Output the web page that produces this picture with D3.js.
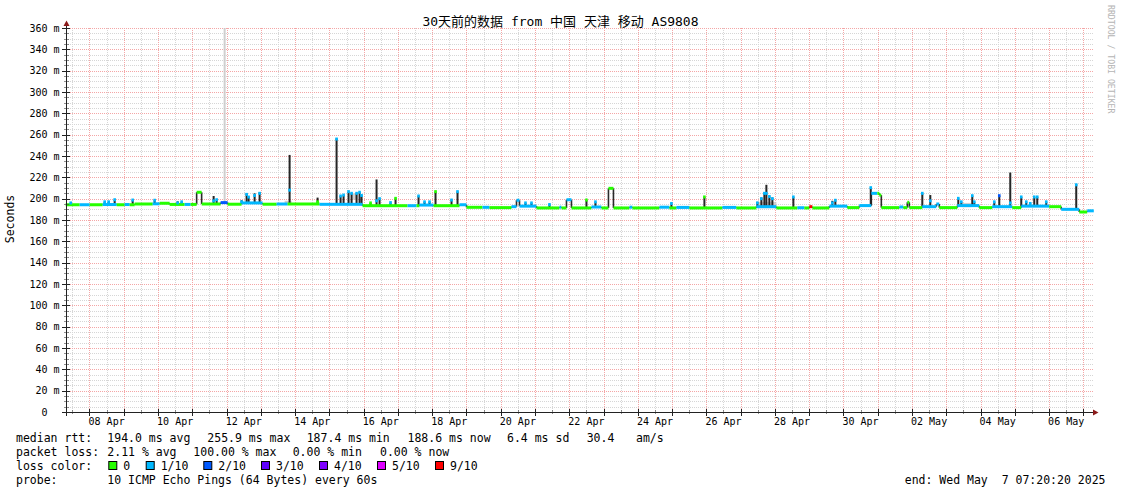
<!DOCTYPE html>
<html><head><meta charset="utf-8">
<script src="https://cdn.jsdelivr.net/npm/d3@7"></script>
<style>
body{margin:0;background:#fff}
svg text{font-family:"DejaVu Sans Mono","Noto Sans CJK SC",monospace;white-space:pre;fill:#000}
</style>
</head><body>
<svg id="c" width="1121" height="494"></svg>
<script>
// ---------- DATA ----------
const startTime = new Date(2025, 3, 7, 7, 20, 20);
const endTime   = new Date(2025, 4, 7, 7, 20, 20);
const titleText = "30天前的数据 from 中国 天津 移动 AS9808";
const yTicks = [0,20,40,60,80,100,120,140,160,180,200,220,240,260,280,300,320,340,360];
const xLabelDates = ["2025-04-08","2025-04-10","2025-04-12","2025-04-14","2025-04-16","2025-04-18","2025-04-20",
  "2025-04-22","2025-04-24","2025-04-26","2025-04-28","2025-04-30","2025-05-02","2025-05-04","2025-05-06"];

// loss colour classes
const lossLevels = [0, 1, 2, 3, 4, 5, 9];
const lossLabels = ["0", "1/10", "2/10", "3/10", "4/10", "5/10", "9/10"];
const lossColors = ["#26ff00", "#00b8ff", "#0059ff", "#5e00ff", "#7e00ff", "#dd00ff", "#ff0000"];

// median rtt step series (hours after start, ms, loss level)
const baseHours = [0,9.8,16.8,25.9,35.7,41.3,44.8,48.3,60.9,65.8,72.8,83.3,87.5,91.7,95.2,108.5,113.4,123.2,137.9,147.7,155.4,
  177.8,207.9,239.4,245.7,247.8,257.6,275.8,280.7,291.9,296.8,312.2,315.7,317.8,329.7,345.8,347.2,350.7,354.2,368.2,375.2,
  380.1,383.6,394.8,396.9,415.8,422.8,427.7,436.8,459.9,469.7,483.7,497.7,512.4,517.3,520.8,522.9,534.8,547.4,555.8,564.2,
  568.4,569.8,571.2,583.8,586.6,589.4,590.8,599.9,609.7,611.8,624.4,639.8,648.9,662.9,669.2,688.8,697.2,709.8,715.4];
const baseRtt = [194.3,194.3,194.3,194.5,194.3,194.5,194.3,195,195.2,195.7,194.6,194.6,194.6,206,195,196.3,194.8,196,194.8,195,195,
  194.7,193.4,193.4,193.4,194,193.4,194.3,191.9,191.9,191.6,192.5,198.5,193,191.3,192,191.3,199,191.3,192.2,191.3,
  209.7,191.3,192,191.3,192,191.3,191.8,191.3,191.8,191.3,192.5,191.3,191.5,191.3,192.5,191.3,193,191.6,193.5,205,
  205,203.3,191.6,192.2,191.6,196.6,191.6,192.5,195,191.6,193.5,191.6,192.5,191.6,193,192.5,190,187.5,188.6];
const baseLoss = [0,1,0,1,0,1,0,0,1,0,0,1,0,0,0,2,0,1,0,1,0,
  1,0,1,0,1,0,1,0,1,0,1,1,1,0,1,0,1,0,1,0,
  0,0,1,0,1,0,1,0,1,0,1,0,1,0,9,0,1,0,1,1,
  0,0,0,1,0,0,0,1,1,0,1,0,1,0,1,0,1,0,1];

// short spikes: hour, median at spike, max ping (top of smoke), loss level
const spikeHours = [3.5,27.3,30.1,34.3,46.9,62.3,78.4,81.2,103.6,105.7,123.2,126.7,128.1,132.3,135.8,156.8,176.4,189.7,192.5,
  194.6,198.1,200.2,203.7,205.8,207.2,213.5,217.7,219.8,227.5,231,247.1,251.3,254.8,259,270.2,274.4,322,326.2,338.8,364.7,
  371,424.2,447.3,484.4,487.2,489.3,490.7,492.8,494.9,509.6,536.9,539,563.8,599.9,605.5,625.1,627.2,634.9,636.3,650.3,
  653.8,661.5,669.2,672.7,675.5,678.3,680.4,686.7,707.7];
const spikeRtt = [196,197,197,199,198.7,198.5,196,197,198,199,197,204,201.5,203,205,208,197,255.9,202.5,
  203.4,206.6,205,205,206,203,196,198,200,196.3,200.3,202.5,197,197,206.6,198.7,206.6,196,196,194.5,198.7,
  197,195.5,201.6,196,200,205,205,202,200,201.6,196,198.5,210.3,205,198,200.3,197,202.8,197,197,
  202.8,196,201.6,197,195.5,201.6,201.6,197,213];
const spikeMax = [196,197,197,199,198.7,198.5,197.5,197,202.5,199,198.5,205,201.5,205,206,241,201,256.5,202.5,
  203.4,206.6,205,205,206,203,196,218,200,196.3,200.3,202.5,197,197,206.6,198.7,206.6,196,196,194.5,198.7,
  197,195.5,201.6,197,201,205,213,202,201,201.6,198,198.5,210.3,205,203.4,200.3,197,202.8,197,197,
  202.8,224.5,201.6,197,195.5,201.6,201.6,197,213.7];
const spikeLoss = [1,1,1,1,1,1,1,1,1,1,1,1,1,1,1,1,0,1,1,
  1,1,1,1,1,1,0,1,1,1,0,1,1,1,0,1,1,1,1,1,0,
  1,1,0,1,1,1,1,1,1,1,1,1,1,1,1,1,1,1,1,1,
  2,1,1,1,1,1,1,1,1];

// light grey smoke areas: start hour, end hour, low, high
const smokeStart = [110.6, 153.3, 200.9, 484.4, 627.9];
const smokeEnd   = [112.0, 158.2, 204.4, 497.7, 634.2];
const smokeLo    = [196, 194, 199, 191, 192];
const smokeHi    = [360, 198, 205, 197, 196];

// legend texts
const rttLegend  = ["194.0 ms avg", "255.9 ms max", "187.4 ms min", "188.6 ms now", "6.4 ms sd", "30.4", "am/s"];
const rttLegendX = [107.3, 207.3, 306.7, 407.5, 507, 586.7, 636];
const lossLegend  = ["2.11 % avg", "100.00 % max", "0.00 % min", "0.00 % now"];
const lossLegendX = [107.3, 193.3, 292.7, 380];
const lossBoxX = [108.3, 145.7, 203.3, 261, 319, 377, 435];
const probeText = "10 ICMP Echo Pings (64 Bytes) every 60s";
const endText = "end: Wed May  7 07:20:20 2025";

// ---------- DRAW ----------
const svg = d3.select("#c");
const W = 1121, H = 494;
svg.append("rect").attr("width", W).attr("height", H).attr("fill", "#fff");

const x = d3.scaleTime().domain([startTime, endTime]).range([65.7, 1093.8]);
const y = d3.scaleLinear().domain([0, 360]).range([412, 28]);
const hx = h => x(new Date(startTime.getTime() + h * 3600e3));
const colorOf = l => lossColors[lossLevels.indexOf(l)];

const plotL = 66, plotR = 1093, plotT = 28, plotB = 412;
const gGrid = svg.append("g").attr("class", "grid");
const gData = svg.append("g").attr("class", "data");

// minor horizontal grid (every 5)
const minorY = d3.range(0, 361, 5).filter(v => v % 20 !== 0);
gGrid.selectAll("line.hmin").data(minorY).join("line").attr("class", "hmin")
  .attr("x1", plotL).attr("x2", plotR)
  .attr("y1", d => Math.round(y(d)) + 0.5).attr("y2", d => Math.round(y(d)) + 0.5)
  .attr("stroke", "#d6d6d6").attr("stroke-dasharray", "1,1");
// minor vertical grid (noons)
const noons = d3.timeDay.range(d3.timeDay.floor(startTime), endTime).map(d => d3.timeHour.offset(d, 12))
  .filter(d => d > startTime && d < endTime);
gGrid.selectAll("line.vmin").data(noons).join("line").attr("class", "vmin")
  .attr("y1", plotT).attr("y2", plotB)
  .attr("x1", d => Math.round(x(d)) + 0.5).attr("x2", d => Math.round(x(d)) + 0.5)
  .attr("stroke", "#d6d6d6").attr("stroke-dasharray", "1,1");
// major vertical grid (midnights)
const mids = d3.timeDay.range(d3.timeDay.ceil(startTime), endTime);
gGrid.selectAll("line.vmaj").data(mids).join("line").attr("class", "vmaj")
  .attr("y1", plotT).attr("y2", plotB)
  .attr("x1", d => Math.round(x(d)) + 0.5).attr("x2", d => Math.round(x(d)) + 0.5)
  .attr("stroke", "#f4a6a6").attr("stroke-dasharray", "1,1");
// major horizontal grid
gGrid.selectAll("line.hmaj").data(yTicks.filter(v => v > 0)).join("line").attr("class", "hmaj")
  .attr("x1", plotL).attr("x2", plotR)
  .attr("y1", d => Math.round(y(d)) + 0.5).attr("y2", d => Math.round(y(d)) + 0.5)
  .attr("stroke", "#f4a6a6").attr("stroke-dasharray", "1,1");

// smoke
gData.selectAll("rect.smoke").data(d3.range(smokeStart.length)).join("rect").attr("class", "smoke")
  .attr("x", i => hx(smokeStart[i])).attr("width", i => Math.max(1.5, hx(smokeEnd[i]) - hx(smokeStart[i])))
  .attr("y", i => y(smokeHi[i])).attr("height", i => y(smokeLo[i]) - y(smokeHi[i]))
  .attr("fill", "#c8c8c8").attr("opacity", 0.85);

// base median: dark vertical connectors
const n = baseHours.length;
const segEnd = i => (i < n - 1 ? baseHours[i + 1] : 720);
const baseAt = h => { let k = 0; for (let i = 0; i < n; i++) if (baseHours[i] <= h) k = i; return baseRtt[k]; };
gData.selectAll("line.conn").data(d3.range(n - 1)).join("line").attr("class", "conn")
  .attr("x1", i => hx(baseHours[i + 1])).attr("x2", i => hx(baseHours[i + 1]))
  .attr("y1", i => y(baseRtt[i])).attr("y2", i => y(baseRtt[i + 1]))
  .attr("stroke", "#2a2a2a").attr("stroke-width", 1.6);

// dark spikes
const sp = d3.range(spikeHours.length);
gData.selectAll("rect.spike").data(sp).join("rect").attr("class", "spike")
  .attr("x", i => hx(spikeHours[i]) - 1).attr("width", 2)
  .attr("y", i => Math.max(plotT, y(spikeMax[i])))
  .attr("height", i => y(baseAt(spikeHours[i])) - Math.max(plotT, y(spikeMax[i])))
  .attr("fill", "#262626");

// coloured median segments
gData.selectAll("rect.seg").data(d3.range(n)).join("rect").attr("class", "seg")
  .attr("x", i => hx(baseHours[i])).attr("width", i => hx(segEnd(i)) - hx(baseHours[i]))
  .attr("y", i => y(baseRtt[i]) - 1.5).attr("height", 3)
  .attr("fill", i => colorOf(baseLoss[i]));

// spike caps
gData.selectAll("rect.cap").data(sp).join("rect").attr("class", "cap")
  .attr("x", i => hx(spikeHours[i]) - 1.3).attr("width", 2.6)
  .attr("y", i => y(spikeRtt[i]) - 1.5).attr("height", 3)
  .attr("fill", i => colorOf(spikeLoss[i]));

// axes
const ax = svg.append("g");
ax.selectAll("line.ytm").data(minorY).join("line").attr("class", "ytm")
  .attr("x1", 64).attr("x2", 69).attr("y1", d => Math.round(y(d)) + 0.5).attr("y2", d => Math.round(y(d)) + 0.5)
  .attr("stroke", "#444").attr("stroke-width", 0.6);
ax.selectAll("line.ytM").data(yTicks).join("line").attr("class", "ytM")
  .attr("x1", 62).attr("x2", 70).attr("y1", d => Math.round(y(d)) + 0.5).attr("y2", d => Math.round(y(d)) + 0.5)
  .attr("stroke", "#222");
ax.selectAll("line.xtM").data(mids).join("line").attr("class", "xtM")
  .attr("y1", 409).attr("y2", 416).attr("x1", d => Math.round(x(d)) + 0.5).attr("x2", d => Math.round(x(d)) + 0.5)
  .attr("stroke", "#222");
ax.selectAll("line.xtm").data(noons).join("line").attr("class", "xtm")
  .attr("y1", 410).attr("y2", 414).attr("x1", d => Math.round(x(d)) + 0.5).attr("x2", d => Math.round(x(d)) + 0.5)
  .attr("stroke", "#444").attr("stroke-width", 0.6);
ax.append("line").attr("x1", 62).attr("x2", 1096).attr("y1", 412.5).attr("y2", 412.5).attr("stroke", "#222");
ax.append("line").attr("x1", 66.5).attr("x2", 66.5).attr("y1", 416).attr("y2", 24).attr("stroke", "#222");
ax.append("path").attr("d", "M63.5,26 L66.5,20.5 L69.5,26 Z").attr("fill", "#8b1a1a");
ax.append("path").attr("d", "M1093,409.5 L1098.5,412.5 L1093,415.5 Z").attr("fill", "#8b1a1a");

// y labels
ax.selectAll("text.yl").data(yTicks).join("text").attr("class", "yl")
  .attr("x", d => d === 0 ? 47.5 : 59.5).attr("y", d => y(d) + 3.6)
  .attr("text-anchor", "end").attr("font-size", 10)
  .text(d => d === 0 ? "0" : d + " m");
// x labels
const fmt = d3.timeFormat("%d %b");
const parseDay = d3.timeParse("%Y-%m-%d");
ax.selectAll("text.xl").data(xLabelDates).join("text").attr("class", "xl")
  .attr("x", d => x(d3.timeHour.offset(parseDay(d), 12)))
  .attr("y", 425).attr("text-anchor", "middle").attr("font-size", 10)
  .text(d => fmt(parseDay(d)));

// title
svg.append("text").attr("x", 560.5).attr("y", 25.5).attr("text-anchor", "middle").attr("font-size", 13).text(titleText);
svg.append("text").attr("transform", "translate(14,219) rotate(-90)").attr("text-anchor", "middle")
  .attr("font-size", 11.5).text("Seconds");
svg.append("text").attr("transform", "translate(1108,5) rotate(90)").attr("text-anchor", "start")
  .attr("font-size", 8.2).style("fill", "#b4b4b4").text("RRDTOOL / TOBI OETIKER");

// legend
const L = svg.append("g").attr("font-size", 11.5);
const lb = [442.3, 456.3, 470.3, 484.3];
L.append("text").attr("x", 16).attr("y", lb[0]).text("median rtt:");
rttLegend.forEach((t, i) => L.append("text").attr("x", rttLegendX[i]).attr("y", lb[0]).text(t));
L.append("text").attr("x", 16).attr("y", lb[1]).text("packet loss:");
lossLegend.forEach((t, i) => L.append("text").attr("x", lossLegendX[i]).attr("y", lb[1]).text(t));
L.append("text").attr("x", 16).attr("y", lb[2]).text("loss color:");
lossLabels.forEach((t, i) => {
  L.append("rect").attr("x", lossBoxX[i] + 0.5).attr("y", 461.5).attr("width", 8).attr("height", 8)
    .attr("fill", lossColors[i]).attr("stroke", "#000").attr("stroke-width", 1);
  L.append("text").attr("x", lossBoxX[i] + 15).attr("y", lb[2]).text(t);
});
L.append("text").attr("x", 16).attr("y", lb[3]).text("probe:");
L.append("text").attr("x", 107.3).attr("y", lb[3]).text(probeText);
L.append("text").attr("x", 1105.5).attr("y", lb[3]).attr("text-anchor", "end").text(endText);
</script>
</body></html>
